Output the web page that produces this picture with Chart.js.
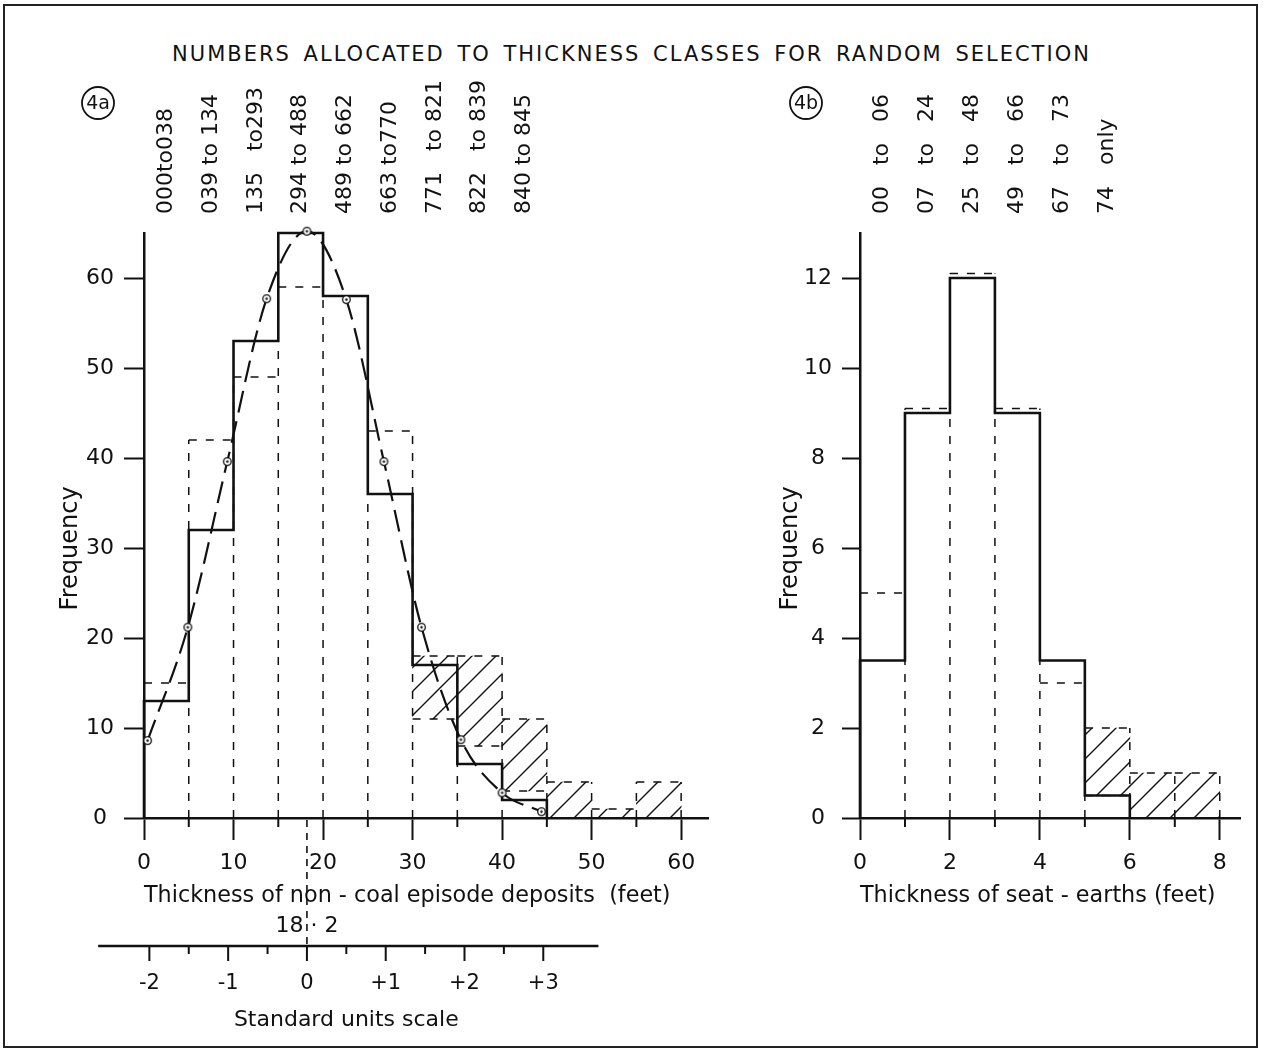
<!DOCTYPE html>
<html>
<head>
<meta charset="utf-8">
<title>Numbers allocated to thickness classes</title>
<script src="https://cdn.jsdelivr.net/npm/chart.js@4"></script>
<style>
  html, body { margin: 0; padding: 0; background: #fff; }
  #page { position: relative; width: 1263px; height: 1050px; overflow: hidden; font-family: "DejaVu Sans", sans-serif; color: #111; }
  #frame { position: absolute; left: 3px; top: 4px; width: 1251px; height: 1040px; border: 2px solid #222; }
  #title { position: absolute; left: 0; top: 41px; width: 1263px; text-align: center; font-size: 21px; line-height: 26px; letter-spacing: 2px; word-spacing: 4px; }
  #wrapA { position: absolute; left: 0; top: 0; }
  #wrapB { position: absolute; left: 740px; top: 0; }
</style>
</head>
<body>
<div id="page">
  <div id="frame"></div>
  <div id="title">NUMBERS ALLOCATED TO THICKNESS CLASSES FOR RANDOM SELECTION</div>
  <div id="wrapA"><canvas id="chartA" width="740" height="1050"></canvas></div>
  <div id="wrapB"><canvas id="chartB" width="523" height="1050"></canvas></div>
</div>
<script>
// ---- 4a: thickness of non-coal episode deposits (feet) ----
const edgesA = [0, 5, 10, 15, 20, 25, 30, 35, 40, 45, 50, 55, 60];
const solidA = [13, 32, 53, 65, 58, 36, 17, 6, 2];
const dashedA = [15, 42, 49, 59, 58, 43, 18, 18, 11, 4, 1, 4];
const hatchLowA = [null, null, null, null, null, null, 11, 8, 3, 0, 0, 0];
const curveXA = [0.4, 4.9, 9.3, 13.7, 18.2, 22.6, 26.8, 31.0, 35.4, 40.0, 44.4];
const curveYA = [8.6, 21.2, 39.6, 57.7, 65.2, 57.6, 39.6, 21.2, 8.7, 2.8, 0.7];
const classLabelsA = ['000to038', '039 to 134', '135   to293', '294 to 488', '489 to 662',
                      '663 to770', '771   to 821', '822   to 839', '840 to 845'];
const xTicksA = [0, 10, 20, 30, 40, 50, 60];
const xMinorA = [5, 15, 25, 35, 45, 55];
const yTicksA = [0, 10, 20, 30, 40, 50, 60];

// standard units scale under 4a
const meanA = 18.2;
const sdA = 8.8;
const stdTicks = [-2, -1, 0, 1, 2, 3];
const stdTickLabels = ['-2', '-1', '0', '+1', '+2', '+3'];
const stdMinor = [-1.5, -0.5, 0.5, 1.5, 2.5];
const stdExtent = [-2.65, 3.7];

// ---- 4b: thickness of seat-earths (feet) ----
const edgesB = [0, 1, 2, 3, 4, 5, 6, 7, 8];
const solidB = [3.5, 9, 12, 9, 3.5, 0.5];
const dashedB = [5, 9.1, 12.1, 9.1, 3, 2, 1, 1];
const hatchLowB = [null, null, null, null, null, 0.5, 0, 0];
const classLabelsB = ['00   to   06', '07   to   24', '25   to   48', '49   to   66', '67   to   73', '74   only'];
const xTicksB = [0, 2, 4, 6, 8];
const xMinorB = [1, 3, 5, 7];
const yTicksB = [0, 2, 4, 6, 8, 10, 12];

const FONT = '"DejaVu Sans", sans-serif';
const INK = '#111';
Chart.defaults.font.family = FONT;
Chart.defaults.color = INK;

// solid step outline of a histogram
function stepOutline(edges, vals) {
  const pts = [{ x: edges[0], y: 0 }];
  vals.forEach((v, i) => {
    pts.push({ x: edges[i], y: v }, { x: edges[i + 1], y: v });
  });
  pts.push({ x: edges[vals.length], y: 0 });
  return pts;
}

// dashed histogram: tops, class boundaries and bottoms of hatched parts, split by gaps
function dashedOutline(edges, vals, lows) {
  const pts = [];
  vals.forEach((v, i) => {
    pts.push({ x: edges[i], y: v }, { x: edges[i + 1], y: v }, { x: edges[i + 1], y: null });
  });
  for (let j = 1; j <= vals.length; j++) {
    const h = Math.max(vals[j - 1] || 0, vals[j] || 0);
    pts.push({ x: edges[j], y: 0 }, { x: edges[j], y: h }, { x: edges[j], y: null });
  }
  lows.forEach((lo, i) => {
    if (lo) pts.push({ x: edges[i], y: lo }, { x: edges[i + 1], y: lo }, { x: edges[i + 1], y: null });
  });
  return pts;
}

function hatchBars(edges, lows, highs) {
  const out = [];
  lows.forEach((lo, i) => {
    if (lo !== null) out.push({ x: (edges[i] + edges[i + 1]) / 2, y: [lo, highs[i]] });
  });
  return out;
}

function hatchPattern() {
  const s = 24;
  const tile = document.createElement('canvas');
  tile.width = s; tile.height = s;
  const g = tile.getContext('2d');
  g.strokeStyle = INK;
  g.lineWidth = 1.4;
  g.beginPath();
  g.moveTo(0, s); g.lineTo(s, 0);
  g.moveTo(-2, 2); g.lineTo(2, -2);
  g.moveTo(s - 2, s + 2); g.lineTo(s + 2, s - 2);
  g.stroke();
  return g.createPattern(tile, 'repeat');
}

function ringMarker() {
  const c = document.createElement('canvas');
  c.width = 11; c.height = 11;
  const g = c.getContext('2d');
  g.fillStyle = '#fff';
  g.strokeStyle = INK;
  g.lineWidth = 1.3;
  g.beginPath(); g.arc(5.5, 5.5, 3.8, 0, Math.PI * 2); g.fill(); g.stroke();
  g.fillStyle = INK;
  g.beginPath(); g.arc(5.5, 5.5, 1.2, 0, Math.PI * 2); g.fill();
  return c;
}

function drawMinorTicks(ctx, xs, values, yTop, len) {
  ctx.strokeStyle = INK;
  ctx.lineWidth = 2;
  values.forEach(v => {
    const x = xs.getPixelForValue(v);
    ctx.beginPath(); ctx.moveTo(x, yTop); ctx.lineTo(x, yTop + len); ctx.stroke();
  });
}

function drawClassLabels(ctx, xs, edges, labels, yBase, size) {
  ctx.font = size + 'px ' + FONT;
  ctx.fillStyle = INK;
  ctx.textAlign = 'left';
  ctx.textBaseline = 'middle';
  labels.forEach((t, i) => {
    const x = xs.getPixelForValue((edges[i] + edges[i + 1]) / 2);
    ctx.save();
    ctx.translate(x, yBase);
    ctx.rotate(-Math.PI / 2);
    ctx.fillText(t, 0, 0);
    ctx.restore();
  });
}

function drawPanelMark(ctx, text, cx, cy) {
  ctx.strokeStyle = INK;
  ctx.lineWidth = 1.8;
  ctx.beginPath(); ctx.arc(cx, cy, 16, 0, Math.PI * 2); ctx.stroke();
  ctx.font = '19px ' + FONT;
  ctx.fillStyle = INK;
  ctx.textAlign = 'center';
  ctx.textBaseline = 'middle';
  ctx.fillText(text, cx, cy + 1);
}

const decorA = {
  id: 'decorA',
  afterDraw(chart) {
    const ctx = chart.ctx, xs = chart.scales.x, area = chart.chartArea;
    ctx.save();
    drawMinorTicks(ctx, xs, xMinorA, area.bottom, 9);
    drawClassLabels(ctx, xs, edgesA, classLabelsA, 214, 22);
    drawPanelMark(ctx, '4a', 98, 103);

    // standard units scale
    const toPx = u => xs.getPixelForValue(meanA + u * sdA);
    const yLine = area.bottom + 128;
    const xMean = toPx(0);
    ctx.setLineDash([7, 6]);
    ctx.lineWidth = 1.6;
    ctx.beginPath(); ctx.moveTo(xMean, area.bottom + 2); ctx.lineTo(xMean, yLine); ctx.stroke();
    ctx.setLineDash([]);
    ctx.lineWidth = 2.5;
    ctx.beginPath(); ctx.moveTo(toPx(stdExtent[0]), yLine); ctx.lineTo(toPx(stdExtent[1]), yLine); ctx.stroke();
    ctx.lineWidth = 2;
    stdTicks.forEach(u => {
      ctx.beginPath(); ctx.moveTo(toPx(u), yLine); ctx.lineTo(toPx(u), yLine + 15); ctx.stroke();
    });
    stdMinor.forEach(u => {
      ctx.beginPath(); ctx.moveTo(toPx(u), yLine); ctx.lineTo(toPx(u), yLine + 8); ctx.stroke();
    });
    ctx.fillStyle = INK;
    ctx.textAlign = 'center';
    ctx.textBaseline = 'middle';
    ctx.font = '21px ' + FONT;
    stdTicks.forEach((u, i) => ctx.fillText(stdTickLabels[i], toPx(u), yLine + 38));
    ctx.font = '22px ' + FONT;
    ctx.fillText(String(meanA).replace('.', ' \u00b7 '), xMean, yLine - 20);
    const mid = (toPx(stdTicks[0]) + toPx(stdTicks[stdTicks.length - 1])) / 2;
    ctx.fillText('Standard units scale', mid, yLine + 74);
    ctx.restore();
  }
};

const decorB = {
  id: 'decorB',
  afterDraw(chart) {
    const ctx = chart.ctx, xs = chart.scales.x, area = chart.chartArea;
    ctx.save();
    drawMinorTicks(ctx, xs, xMinorB, area.bottom, 9);
    drawClassLabels(ctx, xs, edgesB, classLabelsB, 214, 22);
    drawPanelMark(ctx, '4b', 66, 103);
    ctx.restore();
  }
};

function axes(p) {
  return {
    x: {
      type: 'linear', min: 0, max: p.xMax, offset: false,
      afterBuildTicks: s => { s.ticks = p.xTicks.map(v => ({ value: v })); },
      afterFit: s => { s.height = 92; },
      border: { display: true, color: INK, width: 2.5 },
      grid: { drawOnChartArea: false, drawTicks: true, tickLength: 22, tickWidth: 2, tickColor: INK, offset: false },
      ticks: { color: INK, font: { size: 22 }, padding: 10, maxRotation: 0, autoSkip: false },
      title: { display: true, text: p.xTitle, align: 'start', color: INK, font: { size: 22.3 }, padding: 0 }
    },
    y: {
      type: 'linear', min: 0, max: p.yMax,
      afterBuildTicks: s => { s.ticks = p.yTicks.map(v => ({ value: v })); },
      afterFit: s => { s.width = p.yWidth; },
      border: { display: true, color: INK, width: 2.5 },
      grid: { drawOnChartArea: false, drawTicks: true, tickLength: p.yTick, tickWidth: 2, tickColor: INK },
      ticks: { color: INK, font: { size: 22 }, padding: 10, crossAlign: 'center' },
      // trailing spaces push the rotated word a little below the axis middle, as in the source
      title: { display: true, text: 'Frequency      ', color: INK, font: { size: 24 }, padding: { top: 6 } }
    }
  };
}

function datasets(edges, solid, dashed, lows, extra) {
  const list = [
    {
      type: 'bar', data: hatchBars(edges, lows, dashed),
      backgroundColor: hatchPattern(), borderWidth: 0,
      barPercentage: 1, categoryPercentage: 1, order: 3
    },
    {
      type: 'line', data: dashedOutline(edges, dashed, lows),
      borderColor: INK, borderWidth: 1.5, borderDash: [8, 9], spanGaps: false,
      pointRadius: 0, tension: 0, fill: false, clip: false, order: 2
    },
    {
      type: 'line', data: stepOutline(edges, solid),
      borderColor: INK, borderWidth: 2.6, pointRadius: 0, tension: 0,
      fill: false, clip: false, order: 1
    }
  ];
  return list.concat(extra || []);
}

const common = {
  responsive: false,
  animation: false,
  events: [],
  plugins: { legend: { display: false }, tooltip: { enabled: false } }
};

new Chart(document.getElementById('chartA'), {
  type: 'line',
  data: {
    datasets: datasets(edgesA, solidA, dashedA, hatchLowA, [{
      type: 'line',
      data: curveXA.map((x, i) => ({ x: x, y: curveYA[i] })),
      borderColor: INK, borderWidth: 2.2, borderDash: [22, 9],
      cubicInterpolationMode: 'monotone', fill: false, clip: false,
      pointStyle: ringMarker(), pointRadius: 5, order: 0
    }])
  },
  options: Object.assign({}, common, {
    layout: { padding: { left: 50, top: 233, right: 32, bottom: 140 } },
    scales: axes({
      xMax: 63, xTicks: xTicksA, yMax: 65, yTicks: yTicksA, yWidth: 94, yTick: 20,
      xTitle: 'Thickness of non - coal episode deposits  (feet)'
    })
  }),
  plugins: [decorA]
});

new Chart(document.getElementById('chartB'), {
  type: 'line',
  data: { datasets: datasets(edgesB, solidB, dashedB, hatchLowB) },
  options: Object.assign({}, common, {
    layout: { padding: { left: 30, top: 233, right: 23, bottom: 140 } },
    scales: axes({
      xMax: 8.45, xTicks: xTicksB, yMax: 13, yTicks: yTicksB, yWidth: 90, yTick: 18,
      xTitle: 'Thickness of seat - earths (feet)'
    })
  }),
  plugins: [decorB]
});
</script>
</body>
</html>
